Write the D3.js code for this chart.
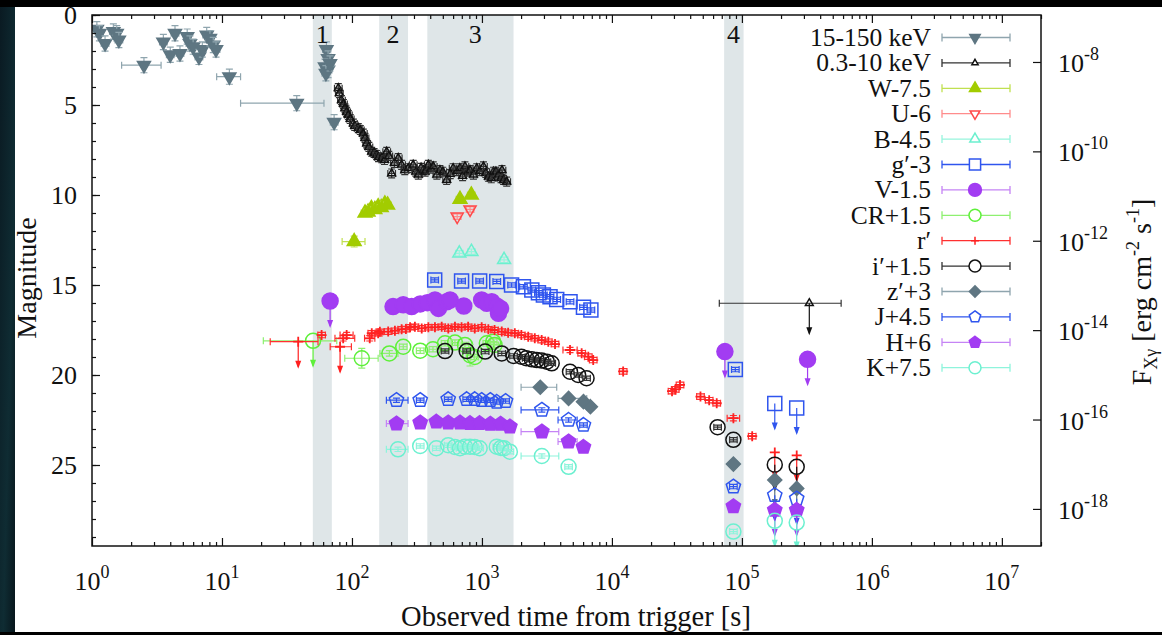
<!DOCTYPE html>
<html><head><meta charset="utf-8">
<script src="https://cdn.jsdelivr.net/npm/d3@7"></script>
<style>
html,body{margin:0;padding:0;background:#000;}
svg{display:block;}
text{font-family:"Liberation Serif","DejaVu Serif",serif;fill:#111;}
</style></head><body>
<svg id="chart" width="1162" height="635"></svg>
<script>
// ---- Light curves: time since trigger [s] ----
// X-ray / gamma-ray fluxes [erg cm^-2 s^-1]: [t, flux, tLo, tHi]
const batFlux = [
  [1.09,5.4e-8],[1.14,4.4e-8],[1.26,2.6e-8],[1.46,4.8e-8],[1.55,4.4e-8],[1.61,3.1e-8],
  [2.51,8.5e-9,1.69,3.4],[3.54,2.8e-8],[4.0,1.45e-8],[4.35,4.4e-8],[4.75,1.55e-8],
  [5.4,3.7e-8],[5.67,2.6e-8],[6.0,2.2e-8],[6.65,1.3e-8],[7.06,1.9e-8],[7.63,4.0e-8],
  [8.08,3.4e-8],[8.57,2.4e-8],[9.0,1.9e-8],[11.4,4.7e-9,9.1,13.9],[37.6,1.2e-9,13.9,60.9],
  [63.6,1.9e-8],[65.5,1.2e-8],[62,7.8e-9],[65.5,6.6e-9],[63,5.6e-9],[67.8,9.3e-9],
  [72.9,4.5e-10]
];
const xrtFlux = [
  [78.5,2.6e-9],[80,2.0e-9],[83,1.4e-9],[86,1.15e-9],[88.3,9.2e-10],[91,7.6e-10],
  [93.8,6.5e-10],[97,5.3e-10],[102.5,4.2e-10],[105,3.7e-10],[111.9,3.3e-10],[116,3.0e-10],
  [122.3,2.5e-10],[126,2.0e-10],[129.8,1.5e-10],[135,1.26e-10],[141.9,9.8e-11],[148,9.2e-11],
  [155,8.3e-11],[160,7.4e-11],[169.3,7.0e-11],[178,6.4e-11],[185,9.8e-11],[192,7.9e-11],
  [202,3.2e-11],[212,5.5e-11],[227,7.1e-11],[241,5.0e-11],[255,3.8e-11],[271,4.2e-11],
  [296,5.0e-11],[310,3.5e-11],[324,3.0e-11],[340,4.3e-11],[354,3.8e-11],[365,3.5e-11],
  [387,5.0e-11],[405,4.1e-11],[422,4.6e-11],[450,3.0e-11],[475,3.8e-11],[500,3.5e-11],
  [535,2.3e-11],[570,3.1e-11],[600,4.2e-11],[640,3.6e-11],[676,4.2e-11],[710,2.8e-11],
  [740,4.6e-11],[780,3.5e-11],[810,3.8e-11],[860,3.0e-11],[912,4.2e-11],[960,3.6e-11],
  [1027,4.6e-11],[1070,3.3e-11],[1122,2.7e-11],[1180,2.5e-11],[1227,3.5e-11],[1280,3.5e-11],
  [1343,3.0e-11],[1400,2.5e-11],[1426,3.8e-11],[1467,2.3e-11],[1550,2.1e-11]
];
const xrtLimits = [[3.3e5,4.0e-14,6.7e4,5.8e5]];

// Optical / NIR magnitudes (with offsets): [t, mag, tLo, tHi, magErr]
const wBand = [[104,12.59,84,126,0.3],[126,11.0],[133,10.95],[141,10.75],[150,10.8],[159,10.65],
  [168,10.7],[179,10.5],[188,10.55],[678,10.24],[828,10.0]];
const uBand = [[645,11.2],[810,10.8]];
const bBand = [[670,13.24],[830,13.15],[1480,13.6]];
const gBand = [[433,14.72],[697,14.78],[960,14.78],[1300,14.8],[1690,15.0],[2085,15.1],[2420,15.28],
  [2720,15.43],[2970,15.56],[3340,15.65],[3760,15.8],[4760,15.93],[6040,16.24],[6890,16.39],[8.9e4,19.7]];
const gLimits = [[1.79e5,21.59],[2.64e5,21.83]];
const vBand = [[207,16.2],[248,16.1],[288,16.2],[335,16.05],[380,15.98],[435,15.83],[463,16.3],
  [536,15.93],[569,15.83],[725,16.17],[995,15.83],[1090,16.02],[1190,15.93],[1300,16.17],
  [1340,16.57],[1390,16.3]];
const vLimits = [[67.9,15.89],[7.4e4,18.7],[3.2e5,19.13]];
const crBand = [[119,19.07,88,159,0.55],[194,18.8,164,226],[248,18.43],[335,18.65],[420,18.57],
  [520,18.24],[620,18.2],[740,18.33],[810,18.9,null,null,0.6],[880,19.0],[1090,18.24],
  [1220,18.15],[1250,18.33]];
const crLimits = [[50.2,18.1,20.8,76.4]];
const rBand = [[58.4,17.78],[85.6,17.96,74,105],[91,17.78,81,102],[137,17.96,125,150],[142,17.68],
  [159,17.68],[164,17.6],[190,17.59],[214,17.54],[241,17.46],[260,17.45],[280,17.35],[305,17.32],
  [344,17.41],[387,17.35],[435,17.35],[490,17.32],[551,17.41],[620,17.32],[697,17.35],[783,17.32],
  [880,17.41],[995,17.35],[1120,17.46],[1250,17.5],[1420,17.59],[1590,17.65],[1790,17.68],
  [2010,17.78],[2270,17.87],[2550,17.96],[2880,18.06],[3240,18.15],[3650,18.28],
  [4760,18.61,4200,5400],[5850,18.79],[6580,18.98],[7180,19.17],[1.22e4,19.8],[2.9e4,20.9],
  [3.07e4,20.8],[3.34e4,20.55],[4.8e4,21.2],[5.6e4,21.4],[6.4e4,21.57],[8.6e4,22.4,7.7e4,9.6e4],
  [1.2e5,23.4]];
const rLimits = [[38.6,18.15,23.5,54.8],[81,18.43,68,99],[1.79e5,24.3],[2.64e5,24.47]];
const iBand = [[520,18.67],[763,18.67],[1058,18.7],[1420,18.8],[1750,18.94],[2010,18.98],
  [2190,19.07],[2420,19.13],[2640,19.17],[2880,19.2],[3160,19.26],[3440,19.35],[4760,19.82],
  [5500,20.0],[6380,20.18],[6.5e4,22.9],[8.6e4,23.6]];
const iLimits = [[1.79e5,24.98],[2.64e5,25.1]];
const zBand = [[2810,20.68,2000,3760],[4640,21.3,3850,6400],[6040,21.48],[6830,21.76],[8.6e4,24.95]];
const zLimits = [[1.79e5,25.83],[2.64e5,26.3]];
const jBand = [[220,21.4,184,270],[335,21.4],[550,21.35],[763,21.35],[880,21.35],[995,21.4],
  [1160,21.4],[1300,21.5],[1520,21.45],[2890,21.94,2000,3900],[4640,22.5,3850,5400],[6040,22.78],
  [8.6e4,26.2]];
const jLimits = [[1.79e5,26.68],[2.64e5,26.87]];
const hBand = [[220,22.7,184,270],[335,22.65],[446,22.6],[550,22.65],[678,22.65],[810,22.68],
  [960,22.68],[1160,22.72],[1390,22.72],[1640,22.87],[2890,23.15,2000,3900],[4640,23.7,3850,5400],
  [6040,24.0],[8.6e4,27.3]];
const hLimits = [[1.79e5,27.5],[2.64e5,27.5]];
const kBand = [[226,24.13,184,270],[335,23.94],[446,24.07],[550,23.9],[620,24.0],[678,24.07],
  [740,23.98],[810,23.98],[880,24.0],[960,24.07],[1300,23.98],[1400,24.05],[1480,24.07],
  [1640,24.26],[2890,24.5,2000,3900],[4640,25.1],[8.6e4,28.7]];
const kLimits = [[1.79e5,28.1],[2.64e5,28.2]];

// Observing windows (shaded) and their labels
const windowStart = [50, 162, 380, 7.3e4];
const windowEnd = [70, 270, 1750, 1.03e5];
const windowLabel = ["1", "2", "3", "4"];
const windowLabelTime = [59, 207, 890, 8.6e4];

// Axis ticks
const magTicks = [0, 5, 10, 15, 20, 25];
const timeExponents = [0, 1, 2, 3, 4, 5, 6, 7];
const fluxExponents = [-8, -10, -12, -14, -16, -18];

// ---- Drawing ----
const W = 1162, H = 635;
const L = 92, R = 1041, T = 15, B = 546;
const FONT = '"Liberation Serif","DejaVu Serif",serif';

const svg = d3.select("#chart");
const defs = svg.append("defs");
const edge = defs.append("linearGradient").attr("id", "edge").attr("x1", 0).attr("y1", 0).attr("x2", 1).attr("y2", 1);
edge.append("stop").attr("offset", "0%").attr("stop-color", "#0a1a22");
edge.append("stop").attr("offset", "60%").attr("stop-color", "#0f2c33");
edge.append("stop").attr("offset", "100%").attr("stop-color", "#07141a");
defs.append("clipPath").attr("id", "plotClip").append("rect")
  .attr("x", L).attr("y", T).attr("width", R - L).attr("height", B - T);

svg.append("rect").attr("width", W).attr("height", H).attr("fill", "#000");
svg.append("rect").attr("x", 0).attr("y", 7).attr("width", 16).attr("height", 625).attr("fill", "url(#edge)");
svg.append("rect").attr("x", 15).attr("y", 7).attr("width", W - 15).attr("height", 625).attr("fill", "#fff");

const x = d3.scaleLog().domain([1, 2e7]).range([L, R]);
const yMag = d3.scaleLinear().domain([0, 29.5]).range([T, B]);
const yFlux = d3.scaleLog().domain([1.125e-7, 1.48e-19]).range([T, B]);

// shaded windows
const plot = svg.append("g").attr("clip-path", "url(#plotClip)");
plot.selectAll("rect.win").data(windowStart).join("rect").attr("class", "win")
  .attr("x", (d) => x(d)).attr("y", T)
  .attr("width", (d, i) => x(windowEnd[i]) - x(d)).attr("height", B - T)
  .attr("fill", "#dfe6e8");
svg.selectAll("text.winlab").data(windowLabel).join("text").attr("class", "winlab")
  .attr("x", (d, i) => x(windowLabelTime[i])).attr("y", 43)
  .attr("text-anchor", "middle").attr("font-size", 26).attr("font-family", FONT).text((d) => d);

// marker shapes
function poly(r, angles) {
  return "M" + angles.map((a) => [r * Math.cos(a * Math.PI / 180), r * Math.sin(a * Math.PI / 180)].map((v) => v.toFixed(2)).join(",")).join("L") + "Z";
}
function markerPath(shape, r) {
  switch (shape) {
    case "circle": return `M${r},0A${r},${r} 0 1,1 ${-r},0A${r},${r} 0 1,1 ${r},0Z`;
    case "square": return `M${-r},${-r}H${r}V${r}H${-r}Z`;
    case "triUp": return poly(r, [-90, 30, 150]);
    case "triDown": return poly(r, [90, 210, 330]);
    case "diamond": return poly(r, [-90, 0, 90, 180]);
    case "pentagon": return poly(r, [-90, -18, 54, 126, 198]);
    case "plus": return `M${-r},0H${r}M0,${-r}V${r}`;
  }
}

const styles = [
  { label: "15-150 keV", data: batFlux, flux: true, dex: 0.17, shape: "triDown", r: 7.5, fill: "#5e7682", stroke: "#5e7682", bar: "#8fa5ae" },
  { label: "0.3-10 keV", data: xrtFlux, lim: xrtLimits, flux: true, dex: 0.1, shape: "triUp", r: 4.5, fill: "none", stroke: "#111", bar: "#333", arrow: 32 },
  { label: "W-7.5", data: wBand, err: 0.15, shape: "triUp", r: 8, fill: "#a2cc00", stroke: "#a2cc00", bar: "#c0e050" },
  { label: "U-6", data: uBand, err: 0.15, shape: "triDown", r: 7, fill: "none", stroke: "#ff4848", bar: "#ff8c8c" },
  { label: "B-4.5", data: bBand, err: 0.15, shape: "triUp", r: 7.5, fill: "none", stroke: "#6cf0cf", bar: "#98f5dd" },
  { label: "g\u2032-3", data: gBand, lim: gLimits, err: 0.12, shape: "square", r: 7, fill: "none", stroke: "#2f55ee", bar: "#2f55ee" },
  { label: "V-1.5", data: vBand, lim: vLimits, err: 0.12, shape: "circle", r: 8, fill: "#a23cf2", stroke: "#a23cf2", bar: "#c584f5" },
  { label: "CR+1.5", data: crBand, lim: crLimits, err: 0.15, shape: "circle", r: 7.5, fill: "none", stroke: "#5ef03a", bar: "#8ef070" },
  { label: "r\u2032", data: rBand, lim: rLimits, err: 0.15, shape: "plus", r: 5, fill: "none", stroke: "#ff2020", bar: "#ff3030" },
  { label: "i\u2032+1.5", data: iBand, lim: iLimits, err: 0.12, shape: "circle", r: 7.5, fill: "none", stroke: "#111", bar: "#333" },
  { label: "z\u2032+3", data: zBand, lim: zLimits, err: 0.12, shape: "diamond", r: 7, fill: "#5f7682", stroke: "#5f7682", bar: "#8fa5ae" },
  { label: "J+4.5", data: jBand, lim: jLimits, err: 0.12, shape: "pentagon", r: 7.5, fill: "none", stroke: "#2f55ee", bar: "#2f55ee" },
  { label: "H+6", data: hBand, lim: hLimits, err: 0.12, shape: "pentagon", r: 7.5, fill: "#a23cf2", stroke: "#a23cf2", bar: "#c584f5" },
  { label: "K+7.5", data: kBand, lim: kLimits, err: 0.12, shape: "circle", r: 7.5, fill: "none", stroke: "#6cf0d0", bar: "#8ef4dc" }
];

const CAP = 3.5;
function yOf(st, v) { return st.flux ? yFlux(v) : yMag(v); }
function yErrPix(st, p) {
  const v = p[1];
  if (st.flux) return [yFlux(v * Math.pow(10, st.dex)), yFlux(v / Math.pow(10, st.dex))];
  const e = p[4] != null ? p[4] : st.err;
  return [yMag(v - e), yMag(v + e)];
}
function hBar(t, p, cy) {
  const x0 = x(p[2] != null ? p[2] : t / 1.07), x1 = x(p[3] != null ? p[3] : t * 1.07);
  return `M${x0},${cy}H${x1}M${x0},${cy - CAP}V${cy + CAP}M${x1},${cy - CAP}V${cy + CAP}`;
}

styles.forEach((st) => {
  const g = plot.append("g");
  st.data.forEach((p) => {
    const t = p[0], cx = x(t), cy = yOf(st, p[1]);
    const [y0, y1] = yErrPix(st, p);
    g.append("path").attr("fill", "none").attr("stroke", st.bar).attr("stroke-width", 1.2)
      .attr("d", hBar(t, p, cy) + `M${cx},${y0}V${y1}M${cx - CAP},${y0}H${cx + CAP}M${cx - CAP},${y1}H${cx + CAP}`);
    g.append("path").attr("transform", `translate(${cx},${cy})`).attr("d", markerPath(st.shape, st.r))
      .attr("fill", st.fill).attr("stroke", st.stroke).attr("stroke-width", st.shape === "plus" ? 1.8 : 1.5);
  });
  (st.lim || []).forEach((p) => {
    const t = p[0], cx = x(t), cy = yOf(st, p[1]);
    const len = st.arrow || 27;
    if (p[2] != null) {
      g.append("path").attr("fill", "none").attr("stroke", st.bar).attr("stroke-width", 1.2).attr("d", hBar(t, p, cy));
    }
    g.append("path").attr("stroke", st.stroke).attr("stroke-width", 1.2).attr("d", `M${cx},${cy}V${cy + len - 2}`);
    g.append("path").attr("fill", st.stroke).attr("stroke", "none")
      .attr("d", `M${cx - 3},${cy + len - 8}L${cx + 3},${cy + len - 8}L${cx},${cy + len}Z`);
    g.append("path").attr("transform", `translate(${cx},${cy})`).attr("d", markerPath(st.shape, st.r))
      .attr("fill", st.fill).attr("stroke", st.stroke).attr("stroke-width", st.shape === "plus" ? 1.8 : 1.5);
  });
});

// legend
const leg = svg.append("g");
styles.forEach((st, i) => {
  const yy = 37.5 + 25.4 * i;
  leg.append("text").attr("x", 931).attr("y", yy + 8.5).attr("text-anchor", "end")
    .attr("font-size", 25.5).attr("font-family", FONT).text(st.label);
  leg.append("path").attr("fill", "none").attr("stroke", st.bar).attr("stroke-width", 1.3)
    .attr("d", `M942,${yy}H1010M942,${yy - 4}V${yy + 4}M1010,${yy - 4}V${yy + 4}`);
  leg.append("path").attr("transform", `translate(975,${yy})`).attr("d", markerPath(st.shape, st.r * 0.8))
    .attr("fill", st.fill === "none" ? "#fff" : st.fill).attr("stroke", st.stroke).attr("stroke-width", 1.5);
});

// axes
const majorT = timeExponents.map((e) => Math.pow(10, e));
const minorT = [];
timeExponents.forEach((e) => { for (let m = 2; m <= 9; m++) { const v = m * Math.pow(10, e); if (v <= 2e7) minorT.push(v); } });
function styleAxis(g) { g.select(".domain").remove(); g.selectAll("line").attr("stroke", "#111").attr("stroke-width", 1.2); }

svg.append("g").attr("transform", `translate(0,${B})`)
  .call(d3.axisBottom(x).tickValues(majorT).tickSize(-8).tickFormat(() => "")).call(styleAxis);
svg.append("g").attr("transform", `translate(0,${B})`)
  .call(d3.axisBottom(x).tickValues(minorT).tickSize(-4).tickFormat(() => "")).call(styleAxis);
svg.append("g").attr("transform", `translate(0,${T})`)
  .call(d3.axisTop(x).tickValues(majorT).tickSize(-8).tickFormat(() => "")).call(styleAxis);
svg.append("g").attr("transform", `translate(0,${T})`)
  .call(d3.axisTop(x).tickValues(minorT).tickSize(-4).tickFormat(() => "")).call(styleAxis);

const leftAx = svg.append("g").attr("transform", `translate(${L},0)`)
  .call(d3.axisLeft(yMag).tickValues(magTicks).tickSize(-8).tickPadding(15).tickFormat(d3.format("d"))).call(styleAxis);
leftAx.attr("font-size", 26).attr("font-family", FONT);
leftAx.selectAll("text").attr("fill", "#111");
svg.append("g").attr("transform", `translate(${L},0)`)
  .call(d3.axisLeft(yMag).tickValues(d3.range(0, 30)).tickSize(-4).tickFormat(() => "")).call(styleAxis);

const fluxTicks = fluxExponents.map((e) => Math.pow(10, e));
svg.append("g").attr("transform", `translate(${R},0)`)
  .call(d3.axisRight(yFlux).tickValues(fluxTicks).tickSize(-8).tickFormat(() => "")).call(styleAxis);

// tick labels with exponents
timeExponents.forEach((e) => {
  const tx = svg.append("text").attr("x", x(Math.pow(10, e))).attr("y", 590).attr("text-anchor", "middle")
    .attr("font-size", 26).attr("font-family", FONT);
  tx.append("tspan").text("10");
  tx.append("tspan").attr("dy", -12).attr("font-size", 18).text(e);
});
fluxExponents.forEach((e) => {
  const tx = svg.append("text").attr("x", 1058).attr("y", yFlux(Math.pow(10, e)) + 10)
    .attr("font-size", 26).attr("font-family", FONT);
  tx.append("tspan").text("10");
  tx.append("tspan").attr("dy", -12).attr("font-size", 18).text(e);
});

// frame
svg.append("rect").attr("x", L).attr("y", T).attr("width", R - L).attr("height", B - T)
  .attr("fill", "none").attr("stroke", "#111").attr("stroke-width", 1.5);

// axis titles
svg.append("text").attr("x", 576).attr("y", 626).attr("text-anchor", "middle")
  .attr("font-size", 28.5).attr("font-family", FONT).text("Observed time from trigger [s]");
svg.append("text").attr("transform", "translate(36,278) rotate(-90)").attr("text-anchor", "middle")
  .attr("font-size", 28).attr("font-family", FONT).text("Magnitude");
const rt = svg.append("text").attr("transform", "translate(1151,292) rotate(-90)").attr("text-anchor", "middle")
  .attr("font-size", 28).attr("font-family", FONT);
rt.append("tspan").text("F");
rt.append("tspan").attr("dy", 6).attr("font-size", 18).text("X\u03b3");
rt.append("tspan").attr("dy", -6).text(" [erg cm");
rt.append("tspan").attr("dy", -12).attr("font-size", 18).text("-2");
rt.append("tspan").attr("dy", 12).text(" s");
rt.append("tspan").attr("dy", -12).attr("font-size", 18).text("-1");
rt.append("tspan").attr("dy", 12).text("]");
</script>
</body></html>
